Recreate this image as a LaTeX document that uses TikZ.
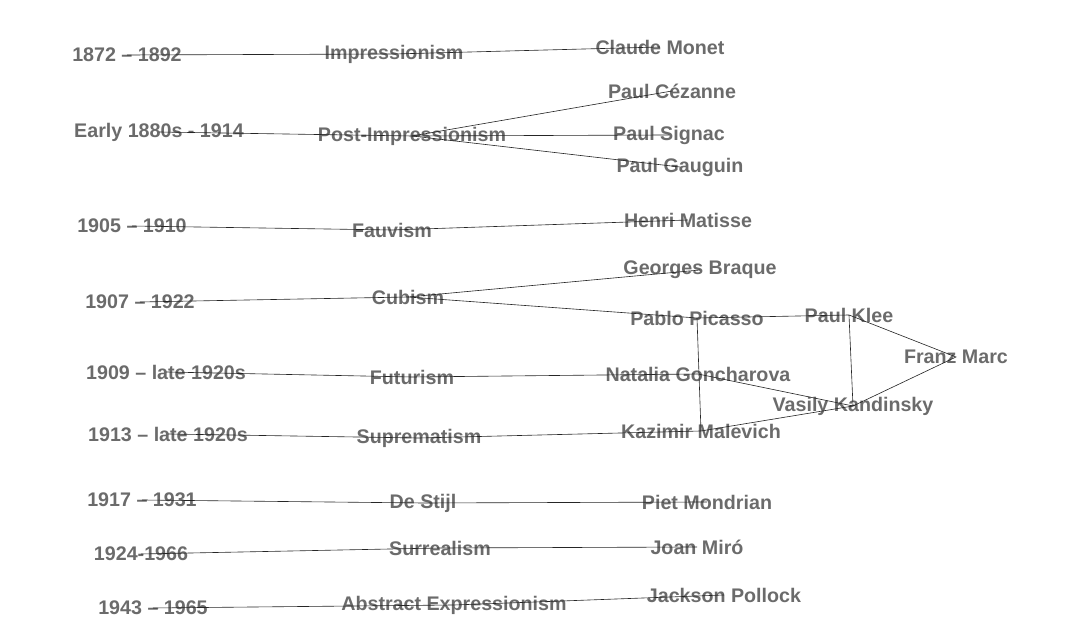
\documentclass[tikz,border=0pt]{standalone}
\usepackage{fontspec}
\setmainfont{Liberation Sans}
\usepackage{tikz}
\definecolor{txtgray}{RGB}{107,107,107}
\tikzset{>=latex}
\tikzset{lbl/.style={text=txtgray, font=\fontsize{11.2}{13}\selectfont\bfseries, inner sep=0pt},
    link/.style={draw=black!85, line width=.35pt}}

\begin{document}
\begin{tikzpicture}[x=.02cm, y=-.02cm]
    \useasboundingbox (0, 0) rectangle (1086, 644);
    % dates
    \node[lbl](d1) at (127, 55){1872 -- 1892};
    \node[lbl](d2) at (159, 132){Early 1880s - 1914};
    \node[lbl](d3) at (132, 226){1905 -- 1910};
    \node[lbl](d4) at (140, 302){1907 -- 1922};
    \node[lbl](d5) at (166, 372){1909 -- late 1920s};
    \node[lbl](d6) at (168, 434){1913 -- late 1920s};
    \node[lbl](d7) at (142, 500){1917 -- 1931};
    \node[lbl](d8) at (141, 554){1924-1966};
    \node[lbl](d9) at (153, 608){1943 -- 1965};
    % movements
    \node[lbl](impr) at (394, 54){Impressionism};
    \node[lbl](post) at (412, 136){Post-Impressionism};
    \node[lbl](fauv) at (392, 230){Fauvism};
    \node[lbl](cub) at (408, 297){Cubism};
    \node[lbl](fut) at (412, 377){Futurism};
    \node[lbl](supr) at (419, 438){Suprematism};
    \node[lbl](stijl) at (423, 503){De Stijl};
    \node[lbl](surr) at (440, 548){Surrealism};
    \node[lbl](abex) at (454, 605){Abstract Expressionism};
    % artists
    \node[lbl](monet) at (660, 47){Claude Monet};
    \node[lbl](cezanne) at (672, 91){Paul Cézanne};
    \node[lbl](signac) at (669, 135){Paul Signac};
    \node[lbl](gauguin) at (680, 167){Paul Gauguin};
    \node[lbl](matisse) at (688, 220){Henri Matisse};
    \node[lbl](braque) at (700, 270){Georges Braque};
    \node[lbl](picasso) at (697, 318){Pablo Picasso};
    \node[lbl](klee) at (849, 315){Paul Klee};
    \node[lbl](marc) at (956, 357){Franz Marc};
    \node[lbl](gonch) at (698, 374){Natalia Goncharova};
    \node[lbl](kand) at (853, 406){Vasily Kandinsky};
    \node[lbl](malev) at (701, 431){Kazimir Malevich};
    \node[lbl](mondr) at (707, 502){Piet Mondrian};
    \node[lbl](miro) at (697, 547){Joan Miró};
    \node[lbl](pollock) at (724, 595){Jackson Pollock};
    % links
    \draw[link](d1.center)--(impr.center)--(monet.center);
    \draw[link](d2.center)--(post.center);
    \foreach \a in {cezanne, signac, gauguin}
        \draw[link](post.center)--(\a.center);
    \draw[link](d3.center)--(fauv.center)--(matisse.center);
    \draw[link](d4.center)--(cub.center)--(braque.center);
    \draw[link](cub.center)--(picasso.center)--(klee.center)--(marc.center)--(kand.center)--(klee.center);
    \draw[link](picasso.center)--(malev.center);
    \draw[link](d5.center)--(fut.center)--(gonch.center)--(kand.center);
    \draw[link](d6.center)--(supr.center)--(malev.center)--(kand.center);
    \draw[link](d7.center)--(stijl.center)--(mondr.center);
    \draw[link](d8.center)--(surr.center)--(miro.center);
    \draw[link](d9.center)--(abex.center)--(pollock.center);
\end{tikzpicture}
\end{document}
